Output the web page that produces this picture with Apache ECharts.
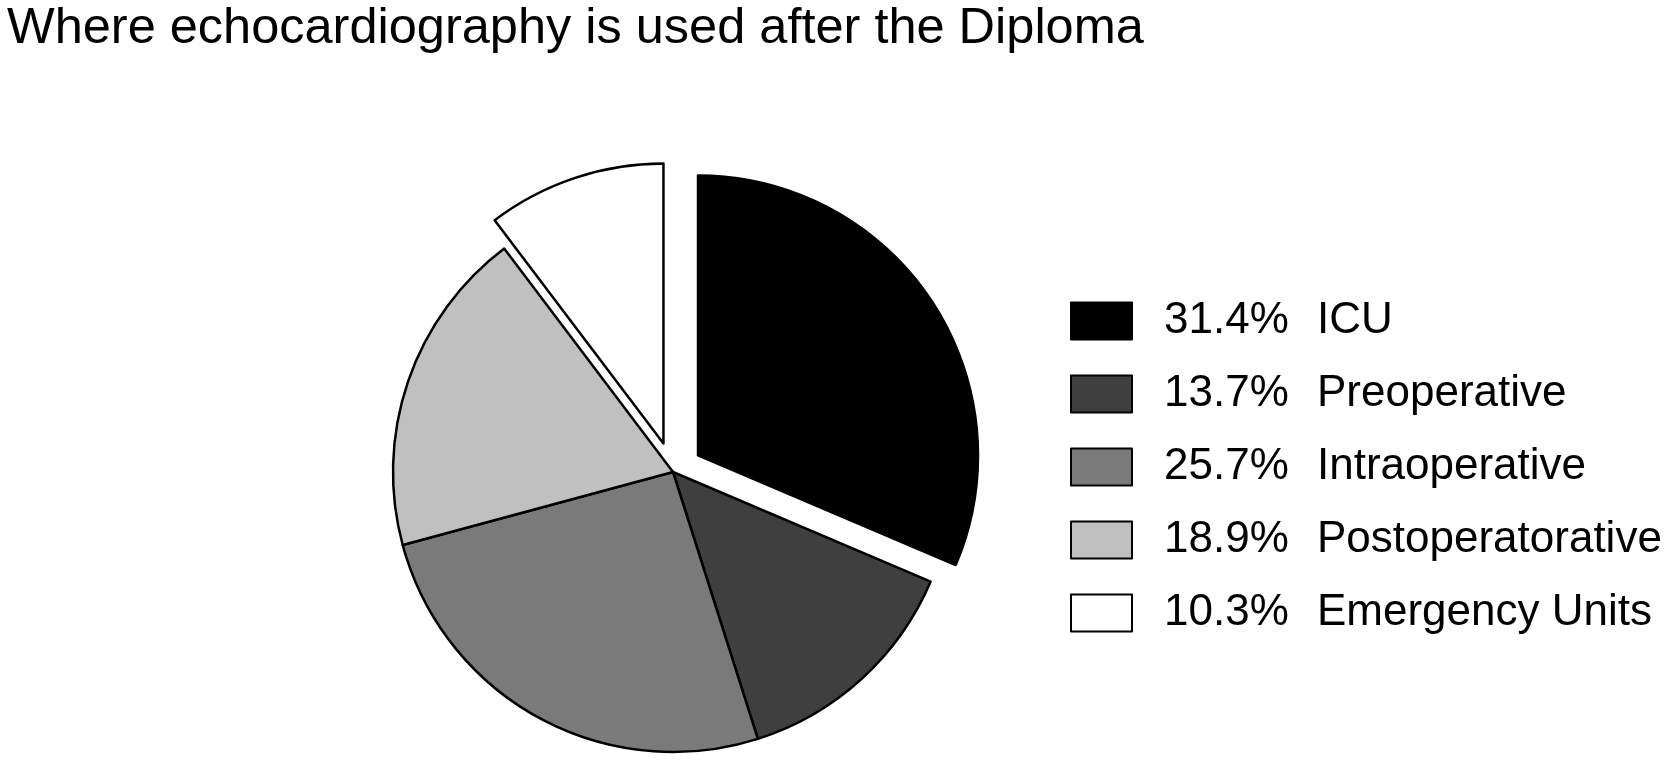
<!DOCTYPE html>
<html>
<head>
<meta charset="utf-8">
<script src="https://cdn.jsdelivr.net/npm/echarts@6/dist/echarts.min.js"></script>
<style>
html,body{margin:0;padding:0;background:#fff;}
#chart{width:1675px;height:760px;}
</style>
</head>
<body>
<div id="chart"></div>
<script>
const titleText = 'Where echocardiography is used after the Diploma';
const categories = ['ICU', 'Preoperative', 'Intraoperative', 'Postoperatorative', 'Emergency Units'];
const values = [31.4, 13.7, 25.7, 18.9, 10.3];
const colors = ['#000000', '#3f3f3f', '#7a7a7a', '#c0c0c0', '#ffffff'];
const exploded = ['ICU', 'Emergency Units'];

const FONT = '"Liberation Sans", Arial, Helvetica, sans-serif';

const chart = echarts.init(document.getElementById('chart'), null, {renderer: 'canvas'});

const data = categories.map((c, i) => ({
  name: c,
  value: values[i],
  selected: exploded.indexOf(c) >= 0,
  itemStyle: {color: colors[i]}
}));

chart.setOption({
  backgroundColor: '#ffffff',
  animation: false,
  title: {
    text: titleText,
    left: 7,
    top: 4,
    padding: 0,
    textStyle: {fontFamily: FONT, fontSize: 50.5, fontWeight: 'normal', color: '#000'}
  },
  legend: {
    orient: 'vertical',
    left: 1065,
    top: 294,
    itemWidth: 61,
    itemHeight: 37,
    itemGap: 29,
    icon: 'rect',
    selectedMode: false,
    data: categories,
    itemStyle: {borderColor: '#000', borderWidth: 2},
    formatter: function (name) {
      const i = categories.indexOf(name);
      return '{p|' + values[i].toFixed(1) + '%}{n|' + name + '}';
    },
    textStyle: {
      fontFamily: FONT,
      fontSize: 44,
      color: '#000',
      lineHeight: 37,
      rich: {
        p: {fontFamily: FONT, fontSize: 44, color: '#000', width: 153, lineHeight: 37, padding: [0, 0, 0, 27]},
        n: {fontFamily: FONT, fontSize: 44, color: '#000', lineHeight: 37}
      }
    }
  },
  series: [{
    type: 'pie',
    center: [673, 472],
    radius: [0, 280],
    startAngle: 90,
    clockwise: true,
    selectedMode: 'multiple',
    selectedOffset: 30,
    avoidLabelOverlap: false,
    label: {show: false},
    labelLine: {show: false},
    emphasis: {disabled: true, scale: false},
    itemStyle: {borderColor: '#000', borderWidth: 2.5},
    data: data
  }]
});
</script>
</body>
</html>
